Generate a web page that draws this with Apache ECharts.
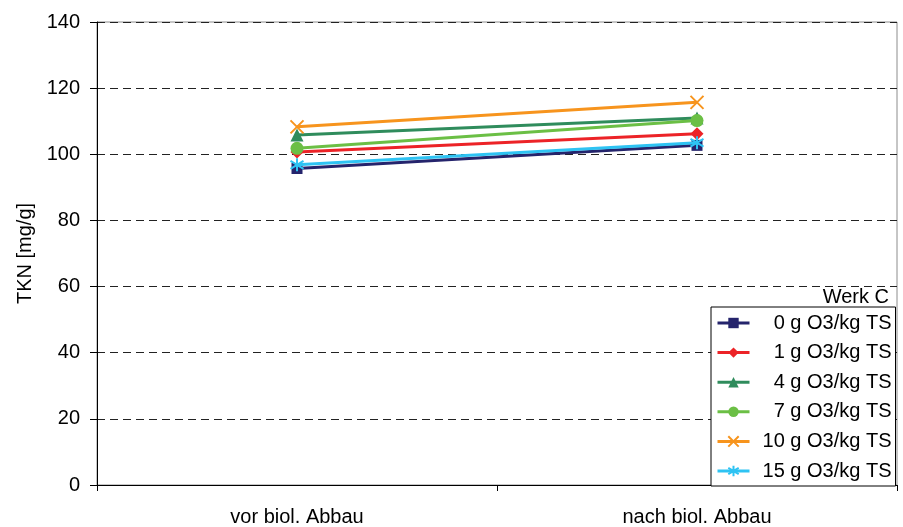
<!DOCTYPE html>
<html>
<head>
<meta charset="utf-8">
<script src="https://cdn.jsdelivr.net/npm/echarts@6/dist/echarts.min.js"></script>
<style>
  html, body { margin: 0; padding: 0; background: #fff; }
  #chart { width: 903px; height: 527px; }
</style>
</head>
<body>
<div id="chart"></div>
<script>
// Stages of the treatment
const categories = ['vor biol. Abbau', 'nach biol. Abbau'];

// TKN per ozone dose (mg/g)
const dose0 = [95.7, 102.7];
const dose1 = [100.7, 106.2];
const dose4 = [105.8, 111.0];
const dose7 = [101.8, 110.2];
const dose10 = [108.3, 115.7];
const dose15 = [96.8, 103.5];

const seriesNames = ['0 g O3/kg TS', '1 g O3/kg TS', '4 g O3/kg TS', '7 g O3/kg TS', '10 g O3/kg TS', '15 g O3/kg TS'];
const seriesData = [dose0, dose1, dose4, dose7, dose10, dose15];

const yTicks = { min: 0, max: 140, interval: 20 };

const FONT = 'Liberation Sans, Arial, sans-serif';
const crossPath = 'path://M0,0L10,10M10,0L0,10';
const starPath = 'path://M5,0L5,10M0,2L10,8M0,8L10,2';

const styles = [
  { color: '#25246c', symbol: 'rect', size: 11 },
  { color: '#ec2327', symbol: 'diamond', size: 13 },
  { color: '#2f8c5c', symbol: 'triangle', size: 13 },
  { color: '#6bbf45', symbol: 'circle', size: 13 },
  { color: '#f7941d', symbol: crossPath, size: 13, stroke: true },
  { color: '#2ec3f3', symbol: starPath, size: 13, stroke: true }
];

const series = seriesNames.map((name, i) => {
  const s = styles[i];
  return {
    name: name,
    type: 'line',
    data: seriesData[i],
    symbol: s.symbol,
    symbolSize: s.size,
    showAllSymbol: true,
    lineStyle: { color: s.color, width: 3 },
    itemStyle: s.stroke
      ? { color: 'rgba(0,0,0,0)', borderColor: s.color, borderWidth: 2 }
      : { color: s.color, borderWidth: 0 },
    emphasis: { disabled: true },
    animation: false,
    z: 3 + i
  };
});

const chart = echarts.init(document.getElementById('chart'), null, { renderer: 'canvas' });
chart.setOption({
  backgroundColor: '#fff',
  animation: false,
  textStyle: { fontFamily: FONT },
  grid: {
    left: 97, right: 6, top: 22, bottom: 40,
    show: true, borderColor: '#8c8c8c', borderWidth: 1, backgroundColor: 'transparent'
  },
  title: {
    text: 'Werk C',
    right: 9, top: 282,
    textStyle: { fontFamily: FONT, fontSize: 20, fontWeight: 'normal', color: '#000' }
  },
  legend: {
    orient: 'vertical',
    left: 711, top: 307,
    width: 183,
    padding: [6, 4, 5, 5],
    itemGap: 9.6,
    itemWidth: 32, itemHeight: 13,
    backgroundColor: '#fff',
    borderColor: '#000', borderWidth: 1,
    lineStyle: { width: 3 },
    data: seriesNames,
    formatter: '{n|{name}}',
    textStyle: {
      fontFamily: FONT, fontSize: 20, color: '#000',
      rich: { n: { width: 137, align: 'right', fontFamily: FONT, fontSize: 20, color: '#000' } }
    }
  },
  xAxis: {
    type: 'category',
    data: categories,
    boundaryGap: true,
    axisLine: { lineStyle: { color: '#000', width: 1 } },
    axisTick: { show: true, length: 6, lineStyle: { color: '#000' } },
    axisLabel: { fontFamily: FONT, fontSize: 20, color: '#000', margin: 22 },
    splitLine: { show: false }
  },
  yAxis: {
    type: 'value',
    min: yTicks.min, max: yTicks.max, interval: yTicks.interval,
    name: 'TKN [mg/g]',
    nameLocation: 'middle',
    nameGap: 47,
    nameTextStyle: { fontFamily: FONT, fontSize: 20, color: '#000' },
    axisLine: { show: true, lineStyle: { color: '#000', width: 1 } },
    axisTick: { show: true, length: 7, lineStyle: { color: '#000' } },
    axisLabel: { fontFamily: FONT, fontSize: 20, color: '#000', margin: 17 },
    splitLine: { show: true, lineStyle: { color: '#222', width: 1, type: [8, 5] } }
  },
  series: series
});
</script>
</body>
</html>
